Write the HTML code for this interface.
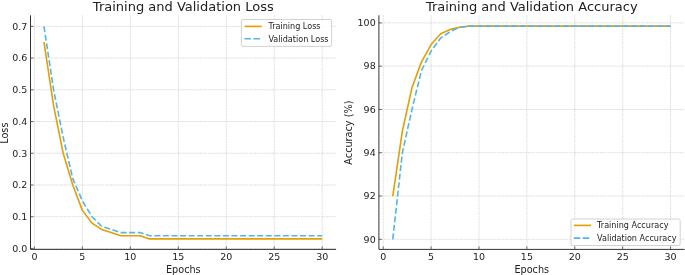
<!DOCTYPE html>
<html><head><meta charset="utf-8"><title>Training and Validation</title>
<style>html,body{margin:0;padding:0;background:#fff;overflow:hidden}svg{display:block;filter:blur(0.25px)}</style></head>
<body><svg width="685" height="275" viewBox="0 0 685 275" font-family="'DejaVu Sans','Liberation Sans',sans-serif" fill="#222222">
<rect width="685" height="275" fill="#ffffff"/>
<path d="M34.40 15.30V249.40M82.37 15.30V249.40M130.33 15.30V249.40M178.30 15.30V249.40M226.26 15.30V249.40M274.22 15.30V249.40M322.19 15.30V249.40M30.50 248.45H336.10M30.50 216.72H336.10M30.50 184.99H336.10M30.50 153.26H336.10M30.50 121.53H336.10M30.50 89.80H336.10M30.50 58.07H336.10M30.50 26.34H336.10" stroke="#bdbdbd" stroke-width="0.5" stroke-dasharray="1.79 0.78" fill="none"/>
<polyline points="43.99,42.20 53.59,105.66 63.18,153.26 72.77,184.99 82.37,210.37 91.96,223.07 101.55,229.41 111.14,232.58 120.74,235.76 130.33,235.76 139.92,235.76 149.52,238.93 159.11,238.93 168.70,238.93 178.30,238.93 187.89,238.93 197.48,238.93 207.07,238.93 216.67,238.93 226.26,238.93 235.85,238.93 245.45,238.93 255.04,238.93 264.63,238.93 274.22,238.93 283.82,238.93 293.41,238.93 303.00,238.93 312.60,238.93 322.19,238.93" fill="none" stroke="#E69F00" stroke-width="1.62" stroke-linejoin="round"/>
<polyline points="43.99,26.34 53.59,89.80 63.18,137.39 72.77,178.64 82.37,200.85 91.96,216.72 101.55,226.24 111.14,229.41 120.74,232.58 130.33,232.58 139.92,232.58 149.52,235.76 159.11,235.76 168.70,235.76 178.30,235.76 187.89,235.76 197.48,235.76 207.07,235.76 216.67,235.76 226.26,235.76 235.85,235.76 245.45,235.76 255.04,235.76 264.63,235.76 274.22,235.76 283.82,235.76 293.41,235.76 303.00,235.76 312.60,235.76 322.19,235.76" fill="none" stroke="#56B4E9" stroke-width="1.62" stroke-dasharray="5.98 2.59" stroke-linejoin="round"/>
<path d="M34.40 249.40v-3.0M82.37 249.40v-3.0M130.33 249.40v-3.0M178.30 249.40v-3.0M226.26 249.40v-3.0M274.22 249.40v-3.0M322.19 249.40v-3.0M30.50 248.45h3.0M30.50 216.72h3.0M30.50 184.99h3.0M30.50 153.26h3.0M30.50 121.53h3.0M30.50 89.80h3.0M30.50 58.07h3.0M30.50 26.34h3.0" stroke="#333333" stroke-width="0.7" fill="none"/>
<path d="M30.50 15.30V249.40H336.10" stroke="#333333" stroke-width="1" fill="none" stroke-linejoin="miter"/>
<text x="34.40" y="259.60" font-size="9.5" text-anchor="middle">0</text>
<text x="82.37" y="259.60" font-size="9.5" text-anchor="middle">5</text>
<text x="130.33" y="259.60" font-size="9.5" text-anchor="middle">10</text>
<text x="178.30" y="259.60" font-size="9.5" text-anchor="middle">15</text>
<text x="226.26" y="259.60" font-size="9.5" text-anchor="middle">20</text>
<text x="274.22" y="259.60" font-size="9.5" text-anchor="middle">25</text>
<text x="322.19" y="259.60" font-size="9.5" text-anchor="middle">30</text>
<text x="27.30" y="251.75" font-size="9.5" text-anchor="end">0.0</text>
<text x="27.30" y="220.02" font-size="9.5" text-anchor="end">0.1</text>
<text x="27.30" y="188.29" font-size="9.5" text-anchor="end">0.2</text>
<text x="27.30" y="156.56" font-size="9.5" text-anchor="end">0.3</text>
<text x="27.30" y="124.83" font-size="9.5" text-anchor="end">0.4</text>
<text x="27.30" y="93.10" font-size="9.5" text-anchor="end">0.5</text>
<text x="27.30" y="61.37" font-size="9.5" text-anchor="end">0.6</text>
<text x="27.30" y="29.64" font-size="9.5" text-anchor="end">0.7</text>
<text x="183.30" y="10.7" font-size="13.0" text-anchor="middle">Training and Validation Loss</text>
<text x="183.30" y="272.7" font-size="9.7" text-anchor="middle">Epochs</text>
<text transform="translate(7.75 133.20) rotate(-90)" font-size="9.7" text-anchor="middle">Loss</text>
<rect x="241.4" y="19.5" width="90.20" height="26.90" rx="1.6" fill="#fff" fill-opacity="0.85" stroke="#c6c6c6" stroke-width="0.8"/>
<path d="M244.50 26.40h17.3" stroke="#E69F00" stroke-width="1.62"/>
<path d="M244.50 38.70h17.3" stroke="#56B4E9" stroke-width="1.62" stroke-dasharray="6.5 2.4"/>
<text x="268.40" y="29.15" font-size="8.08">Training Loss</text>
<text x="268.40" y="41.85" font-size="8.08">Validation Loss</text>
<path d="M383.20 15.30V249.40M431.10 15.30V249.40M479.00 15.30V249.40M526.90 15.30V249.40M574.80 15.30V249.40M622.70 15.30V249.40M670.60 15.30V249.40M378.90 239.30H684.60M378.90 196.02H684.60M378.90 152.74H684.60M378.90 109.46H684.60M378.90 66.18H684.60M378.90 22.90H684.60" stroke="#bdbdbd" stroke-width="0.5" stroke-dasharray="1.79 0.78" fill="none"/>
<polyline points="392.78,196.02 402.36,131.10 411.94,87.82 421.52,61.85 431.10,44.54 440.68,33.72 450.26,29.39 459.84,27.23 469.42,26.15 479.00,26.15 488.58,26.15 498.16,26.15 507.74,26.15 517.32,26.15 526.90,26.15 536.48,26.15 546.06,26.15 555.64,26.15 565.22,26.15 574.80,26.15 584.38,26.15 593.96,26.15 603.54,26.15 613.12,26.15 622.70,26.15 632.28,26.15 641.86,26.15 651.44,26.15 661.02,26.15 670.60,26.15" fill="none" stroke="#E69F00" stroke-width="1.62" stroke-linejoin="round"/>
<polyline points="392.78,239.30 402.36,152.74 411.94,109.46 421.52,70.51 431.10,51.03 440.68,38.05 450.26,31.56 459.84,27.23 469.42,26.15 479.00,26.15 488.58,26.15 498.16,26.15 507.74,26.15 517.32,26.15 526.90,26.15 536.48,26.15 546.06,26.15 555.64,26.15 565.22,26.15 574.80,26.15 584.38,26.15 593.96,26.15 603.54,26.15 613.12,26.15 622.70,26.15 632.28,26.15 641.86,26.15 651.44,26.15 661.02,26.15 670.60,26.15" fill="none" stroke="#56B4E9" stroke-width="1.62" stroke-dasharray="5.98 2.59" stroke-linejoin="round"/>
<path d="M383.20 249.40v-3.0M431.10 249.40v-3.0M479.00 249.40v-3.0M526.90 249.40v-3.0M574.80 249.40v-3.0M622.70 249.40v-3.0M670.60 249.40v-3.0M378.90 239.30h3.0M378.90 196.02h3.0M378.90 152.74h3.0M378.90 109.46h3.0M378.90 66.18h3.0M378.90 22.90h3.0" stroke="#333333" stroke-width="0.7" fill="none"/>
<path d="M378.90 15.30V249.40H684.60" stroke="#333333" stroke-width="1" fill="none" stroke-linejoin="miter"/>
<text x="383.20" y="259.60" font-size="9.5" text-anchor="middle">0</text>
<text x="431.10" y="259.60" font-size="9.5" text-anchor="middle">5</text>
<text x="479.00" y="259.60" font-size="9.5" text-anchor="middle">10</text>
<text x="526.90" y="259.60" font-size="9.5" text-anchor="middle">15</text>
<text x="574.80" y="259.60" font-size="9.5" text-anchor="middle">20</text>
<text x="622.70" y="259.60" font-size="9.5" text-anchor="middle">25</text>
<text x="670.60" y="259.60" font-size="9.5" text-anchor="middle">30</text>
<text x="375.70" y="242.60" font-size="9.5" text-anchor="end">90</text>
<text x="375.70" y="199.32" font-size="9.5" text-anchor="end">92</text>
<text x="375.70" y="156.04" font-size="9.5" text-anchor="end">94</text>
<text x="375.70" y="112.76" font-size="9.5" text-anchor="end">96</text>
<text x="375.70" y="69.48" font-size="9.5" text-anchor="end">98</text>
<text x="375.70" y="26.20" font-size="9.5" text-anchor="end">100</text>
<text x="531.75" y="10.7" font-size="13.0" text-anchor="middle">Training and Validation Accuracy</text>
<text x="531.75" y="272.7" font-size="9.7" text-anchor="middle">Epochs</text>
<text transform="translate(352.00 132.60) rotate(-90)" font-size="9.7" text-anchor="middle">Accuracy (%)</text>
<rect x="571.0" y="219.0" width="109.20" height="26.50" rx="1.6" fill="#fff" fill-opacity="0.85" stroke="#c6c6c6" stroke-width="0.8"/>
<path d="M573.80 225.40h17.3" stroke="#E69F00" stroke-width="1.62"/>
<path d="M573.80 238.10h17.3" stroke="#56B4E9" stroke-width="1.62" stroke-dasharray="6.5 2.4"/>
<text x="597.10" y="228.15" font-size="8.08">Training Accuracy</text>
<text x="597.10" y="241.25" font-size="8.08">Validation Accuracy</text>
</svg></body></html>
